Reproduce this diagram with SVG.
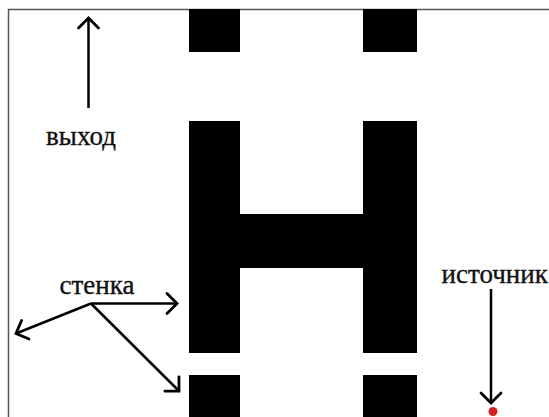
<svg xmlns="http://www.w3.org/2000/svg" width="549" height="417" viewBox="0 0 549 417">
<style>
.wall{fill:#000}
.frame{stroke:#555;stroke-width:1.5;fill:none}
.lbl{font-family:"Liberation Serif","Times New Roman",serif;font-size:27px;fill:#111;stroke:#111;stroke-width:0.35}
.arr{stroke:#000;stroke-width:2.5;fill:none;marker-end:url(#head)}
</style>
<defs>
<marker id="head" markerUnits="userSpaceOnUse" markerWidth="30" markerHeight="30" viewBox="-15 -15 30 30" refX="0" refY="0" orient="auto">
<path d="M-10,-10 L0,0 L-10,10" fill="none" stroke="#000" stroke-width="2.8" stroke-linecap="round" stroke-linejoin="miter"/>
</marker>
</defs>
<rect width="549" height="417" fill="#fff"/>
<g id="frame">
<path class="frame" d="M8.5,417 L8.5,9.5 L549,9.5"/>
</g>
<g id="wall-top-left"><rect class="wall" x="189" y="9" width="51" height="43"/></g>
<g id="wall-top-right"><rect class="wall" x="363" y="9" width="54" height="43"/></g>
<g id="wall-h"><path class="wall" d="M189,121 H240 V214 H363 V121 H417 V353 H363 V268 H240 V353 H189 Z"/></g>
<g id="wall-bottom-left"><rect class="wall" x="189" y="375" width="51" height="42"/></g>
<g id="wall-bottom-right"><rect class="wall" x="363" y="375" width="54" height="42"/></g>
<g id="source"><circle cx="493" cy="411.5" r="4.5" fill="#d42020"/></g>
<g id="label-exit"><text class="lbl" x="81" y="144.5" text-anchor="middle">выход</text></g>
<g id="label-wall"><text class="lbl" x="97" y="293.5" text-anchor="middle">стенка</text></g>
<g id="label-source"><text class="lbl" x="441.5" y="283">источник</text></g>
<g id="connectors">
<line class="arr" x1="88.5" y1="108" x2="88.5" y2="18"/>
<line class="arr" x1="491" y1="289" x2="491" y2="403"/>
<line class="arr" x1="91" y1="303.5" x2="177" y2="303.5"/>
<line class="arr" x1="91" y1="303.5" x2="16" y2="333.5"/>
<line class="arr" x1="91" y1="303.5" x2="179" y2="391"/>
</g>
</svg>
